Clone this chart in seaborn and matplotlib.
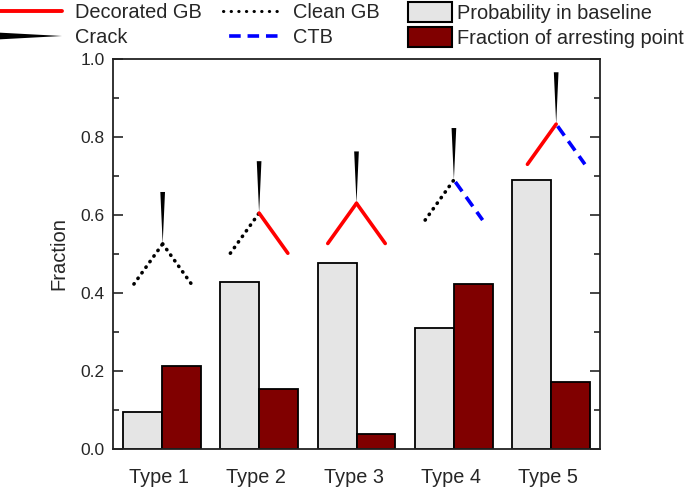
import pandas as pd
import seaborn as sns
import matplotlib
matplotlib.use('Agg')
import matplotlib.pyplot as plt
from matplotlib.legend_handler import HandlerBase
from matplotlib.lines import Line2D
from matplotlib.patches import Patch, Polygon
from matplotlib.ticker import MultipleLocator
from matplotlib.transforms import ScaledTranslation

types = ['Type 1', 'Type 2', 'Type 3', 'Type 4', 'Type 5']
baseline = [0.095, 0.428, 0.476, 0.31, 0.69]
arresting = [0.212, 0.155, 0.038, 0.423, 0.173]

# the little junction sketches above the bars
junction_x = [0.01, 0.0, 0.0, 0.0, 0.05]
junction_y = [0.526, 0.605, 0.630, 0.690, 0.833]
left_gb = ['clean', 'clean', 'decorated', 'clean', 'decorated']
right_gb = ['clean', 'decorated', 'decorated', 'ctb', 'ctb']

gb_styles = {
    'decorated': dict(color='#ff0000', linestyle='-', lw=2.6),
    'clean': dict(color='black', linestyle=(0, (0.1, 1.8)), lw=2.6, dash_capstyle='round'),
    'ctb': dict(color='#0000ff', linestyle=(4.4, (3.2, 1.9)), lw=2.6),
}


class CrackHandler(HandlerBase):
    def create_artists(self, legend, orig_handle, xdescent, ydescent, width, height, fontsize, trans):
        mid = height / 2
        pts = [(0, mid - 2.4), (0, mid + 2.4), (width, mid)]
        return [Polygon(pts, closed=True, facecolor='black', edgecolor='none', transform=trans)]


sns.set_style('ticks')
plt.rcParams['font.family'] = ['Liberation Sans', 'DejaVu Sans']

df = pd.DataFrame({
    'type': types * 2,
    'value': baseline + arresting,
    'series': ['Probability in baseline'] * 5 + ['Fraction of arresting point'] * 5,
})
colour = ['#e5e5e5', '#800000']

fig, ax = plt.subplots(figsize=(6.85, 4.9), dpi=100)
fig.subplots_adjust(left=113 / 685, right=600 / 685, top=1 - 59 / 490, bottom=1 - 449 / 490)

sns.barplot(ax=ax, data=df, x='type', y='value', hue='series', palette=colour, width=0.8, gap=0,
            saturation=1, edgecolor='black', linewidth=1.3, legend=False)

for i in range(len(types)):
    x0 = i + junction_x[i]
    y0 = junction_y[i]
    ax.plot([x0 - 0.295, x0], [y0 - 0.103, y0], **gb_styles[left_gb[i]])
    ax.plot([x0, x0 + 0.295], [y0, y0 - 0.103], **gb_styles[right_gb[i]])
    ax.fill([x0 - 0.024, x0 + 0.024, x0], [y0 + 0.133, y0 + 0.133, y0], color='black', lw=0)

ax.set_xlim(-0.5, 4.5)
ax.set_ylim(0, 1)
ax.set_xlabel('')
ax.set_ylabel('Fraction', fontsize=14.5)
ax.yaxis.set_label_coords(-0.0924, 0.5)
ax.yaxis.set_major_locator(MultipleLocator(0.2))
ax.yaxis.set_minor_locator(MultipleLocator(0.1))
ax.tick_params(axis='y', which='major', direction='in', length=7, width=1.2, right=True, labelsize=12.5, pad=6)
ax.tick_params(axis='y', which='minor', direction='in', length=4, width=1.2, right=True)
ax.tick_params(axis='x', length=0, labelsize=14.3, pad=14)
# category labels sit a few pixels left of the bar groups in the original
shift = ScaledTranslation(-3 / 100, 0, fig.dpi_scale_trans)
for label in ax.get_xticklabels():
    label.set_transform(label.get_transform() + shift)
for spine in ax.spines.values():
    spine.set_visible(True)
    spine.set_linewidth(1.3)
    spine.set_color('#222222')

legend_opts = dict(frameon=False, fontsize=14.4, loc='upper left', borderpad=0, borderaxespad=0)
crack_handle = Patch(label='Crack')
clean_handle = {**gb_styles['clean'], 'lw': 2.2, 'linestyle': (0, (0.1, 2.4))}
# start on a gap so the handle shows three dashes, centred
ctb_handle = {**gb_styles['ctb'], 'linestyle': (3.4, (3.2, 1.9))}
fig.legend(handles=[Line2D([], [], label='Decorated GB', **{**gb_styles['decorated'], 'lw': 2.8}), crack_handle],
           handler_map={crack_handle: CrackHandler()}, bbox_to_anchor=(0 / 685, 1 - 3 / 490),
           handlelength=3.1, handletextpad=0.65, labelspacing=0.3, **legend_opts)
fig.legend(handles=[Line2D([], [], label='Clean GB', **clean_handle),
                    Line2D([], [], label='CTB', **ctb_handle)],
           bbox_to_anchor=(223 / 685, 1 - 3 / 490), handlelength=3.0, handletextpad=0.5, labelspacing=0.3,
           **legend_opts)
fig.legend(handles=[Patch(facecolor=colour[0], edgecolor='black', lw=1.5, label='Probability in baseline'),
                    Patch(facecolor=colour[1], edgecolor='black', lw=1.5, label='Fraction of arresting point')],
           bbox_to_anchor=(408 / 685, 1 - 2 / 490), handlelength=2.2, handleheight=1.2, handletextpad=0.25,
           labelspacing=0.18, **legend_opts)

fig.savefig('out.png', dpi=100)
